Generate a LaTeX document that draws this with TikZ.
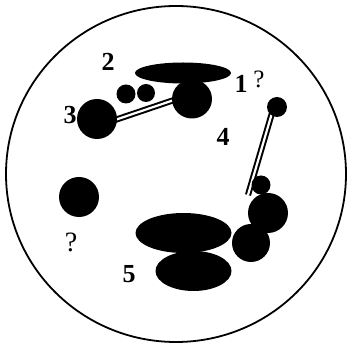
\documentclass[tikz,border=0pt]{standalone}
\usepackage{fontspec}
\setmainfont{Liberation Serif}

\tikzset{
  blob/.style={fill=black},
  digit/.style={font=\fontsize{26}{26}\selectfont\bfseries, inner sep=0pt},
  query/.style={font=\fontsize{25}{25}\selectfont, inner sep=0pt},
  rod/.style={draw=black, double=white, double distance=2.2pt, line width=2pt},
}

\begin{document}
\begin{tikzpicture}[x=1pt,y=-1pt]
  \useasboundingbox (0,0) rectangle (349,347);
  % dish
  \draw[line width=1.8pt] (176,174) ellipse [x radius=170, y radius=168];

  % rod ends
  \coordinate (rodAa) at (112,121);
  \coordinate (rodAb) at (180,98);
  \coordinate (rodBa) at (272,113);
  \coordinate (rodBb) at (248,195);
  \draw[rod] (rodAa) -- (rodAb);
  \draw[rod] (rodBa) -- (rodBb);

  % cluster 1
  \fill[blob] (183,73) ellipse [x radius=48, y radius=10.5];
  \fill[blob] (192,99) ellipse [x radius=20, y radius=19.5];
  % cluster 2
  \fill[blob] (126,94) circle [radius=9.5];
  \fill[blob] (146,93) circle [radius=9];
  % cluster 3
  \fill[blob] (97,119) circle [radius=20];
  % top right
  \fill[blob] (277,107) circle [radius=10];
  % cluster 4
  \fill[blob] (261,185) circle [radius=9.5];
  \fill[blob] (268,213) circle [radius=20];
  \fill[blob] (251,243) circle [radius=19];
  % cluster 5
  \fill[blob] (183.5,233) ellipse [x radius=48, y radius=20];
  \fill[blob] (193.5,271) ellipse [x radius=38, y radius=20];
  % lone one
  \fill[blob] (79,197) circle [radius=20];

  % labels
  \node[digit] (lab2) at (108,62) {2};
  \node[digit] (lab1) at (241,84) {1};
  \node[query] (qa) at (259,79) {?};
  \node[digit] (lab3) at (70,115) {3};
  \node[digit] (lab4) at (223,137) {4};
  \node[digit] (lab5) at (129,274) {5};
  \node[query, font=\fontsize{28}{28}\selectfont] (qb) at (71,242) {?};
\end{tikzpicture}
\end{document}
